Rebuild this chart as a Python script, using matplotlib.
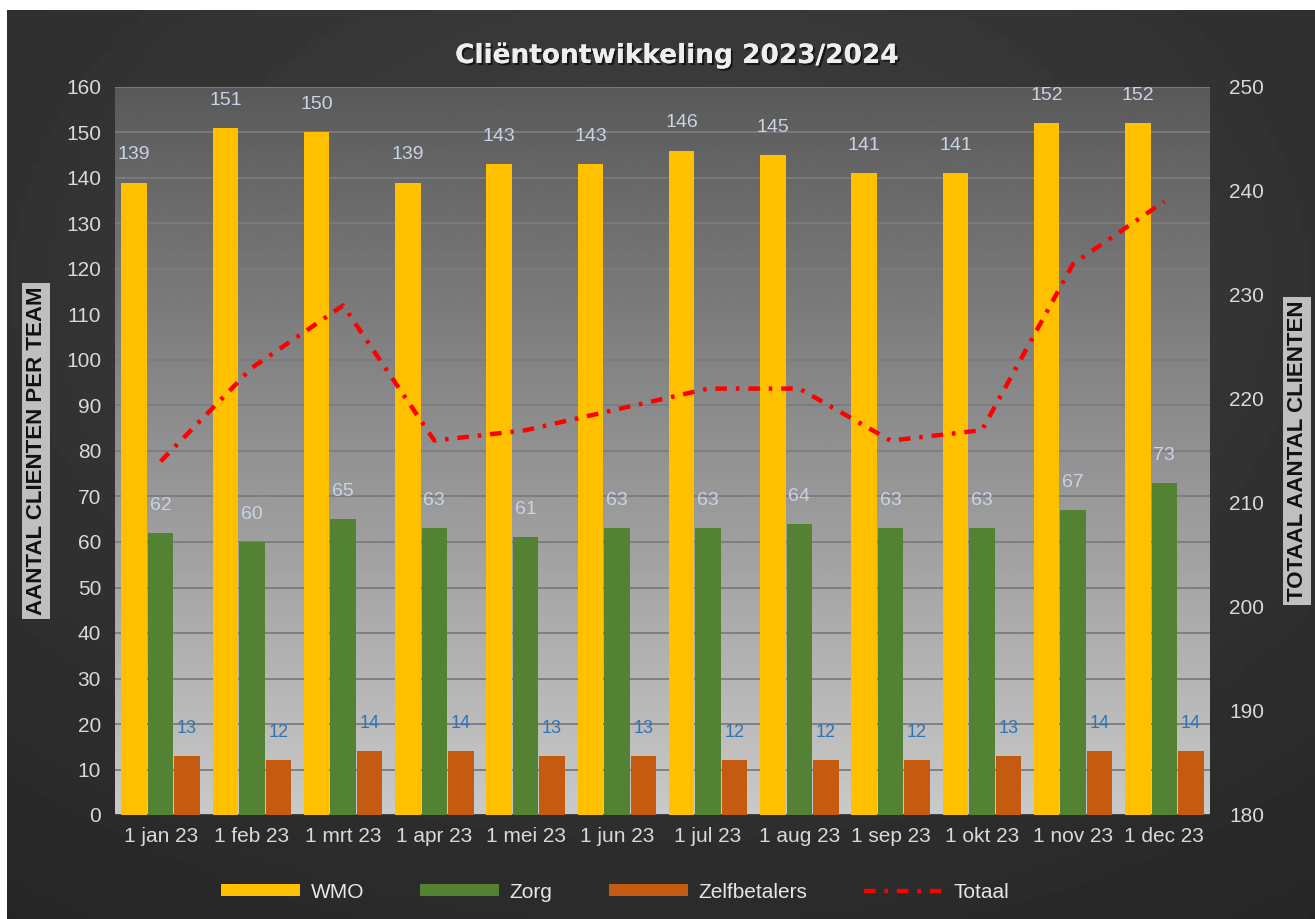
import numpy as np
import matplotlib as mpl
mpl.use('Agg')
import matplotlib.pyplot as plt
import matplotlib.patheffects as pe

months = ["1 jan 23", "1 feb 23", "1 mrt 23", "1 apr 23", "1 mei 23", "1 jun 23",
          "1 jul 23", "1 aug 23", "1 sep 23", "1 okt 23", "1 nov 23", "1 dec 23"]
wmo = [139, 151, 150, 139, 143, 143, 146, 145, 141, 141, 152, 152]
zorg = [62, 60, 65, 63, 61, 63, 63, 64, 63, 63, 67, 73]
zelf = [13, 12, 14, 14, 13, 13, 12, 12, 12, 13, 14, 14]
totaal = [214, 223, 229, 216, 217, 219, 221, 221, 216, 217, 233, 239]

plt.rcParams['font.family'] = ['Liberation Sans', 'DejaVu Sans']

W, H = 1315, 919
fig = plt.figure(figsize=(W / 100, H / 100), dpi=100)
fig.patch.set_facecolor('white')

# dark chart background with soft gradient
bg = fig.add_axes([7 / W, 0, 1 - 7 / W, 1 - 10 / H], zorder=-5)
yy, xx = np.mgrid[0:1:200j, 0:1:200j]
r = np.sqrt((xx - 0.5) ** 2 + (yy - 0.3) ** 2)
bg.imshow(0.26 - 0.13 * r, cmap='gray', vmin=0, vmax=1, aspect='auto', extent=[0, 1, 0, 1])
bg.axis('off')

ax = fig.add_axes([115 / W, 1 - 815 / H, (1210 - 115) / W, (815 - 87) / H])
ax.set_facecolor('none')
grad = np.linspace(0.35, 0.79, 256).reshape(-1, 1)
ax.imshow(grad, cmap='gray', vmin=0, vmax=1, aspect='auto', extent=[0, 1, 0, 1],
          transform=ax.transAxes, zorder=0)

x = np.arange(len(months))
w = 0.28
off = 0.29
ax.bar(x - off, wmo, w, color='#FFC000', label='WMO', zorder=3)
ax.bar(x, zorg, w, color='#548235', label='Zorg', zorder=3)
ax.bar(x + off, zelf, w, color='#C55A11', label='Zelfbetalers', zorder=3)

for xs, vals, col, fs in [(x - off, wmo, '#c9d3e6', 14), (x, zorg, '#c9d3e6', 14),
                          (x + off, zelf, '#2E75B6', 13)]:
    for xi, v in zip(xs, vals):
        ax.annotate(str(v), (xi, v), xytext=(0, 20), textcoords='offset points',
                    ha='center', va='center', fontsize=fs, color=col, zorder=5)

ax.set_xlim(-0.5, len(months) - 0.5)
ax.set_ylim(0, 160)
ax.set_yticks(range(0, 161, 10))
ax.yaxis.grid(True, color='#7c7c7c', linewidth=1.3, zorder=1)
ax.set_axisbelow(True)
ax.axhline(0, color='#34404c', linewidth=2, zorder=2)
ax.set_xticks(x)
ax.set_xticklabels(months)
ax.tick_params(axis='both', colors='#d9d9d9', labelsize=15, length=0)
ax.tick_params(axis='x', pad=9)
ax.tick_params(axis='y', pad=10)
for s in ax.spines.values():
    s.set_visible(False)
ax.set_ylabel('AANTAL CLIENTEN PER TEAM', fontsize=16, fontweight='bold', color='#111111',
              bbox=dict(facecolor='#bfbfbf', edgecolor='none', pad=2.5), labelpad=14)

ax2 = ax.twinx()
ax2.plot(x, totaal, color='#FF0000', linestyle=(0, (2.6, 2, 0.8, 2)), linewidth=3.2,
         label='Totaal', zorder=4)
ax2.set_ylim(180, 250)
ax2.set_yticks(range(180, 251, 10))
ax2.tick_params(axis='y', colors='#d9d9d9', labelsize=15, length=0, pad=14)
for s in ax2.spines.values():
    s.set_visible(False)
ax2.set_ylabel('TOTAAL AANTAL CLIENTEN', fontsize=16, fontweight='bold', color='#111111',
               bbox=dict(facecolor='#bfbfbf', edgecolor='none', pad=2.5), labelpad=16)

fig.text(677 / W, 1 - 56 / H, 'Cliëntontwikkeling 2023/2024', ha='center', va='center',
         fontsize=19, fontweight='bold', color='#eeeeee', family=['DejaVu Sans'],
         path_effects=[pe.withSimplePatchShadow(offset=(1.5, -1.5), shadow_rgbFace='black', alpha=0.6), pe.Normal()])

h1, l1 = ax.get_legend_handles_labels()
h2, l2 = ax2.get_legend_handles_labels()
leg = fig.legend(h1 + h2, l1 + l2, loc='center', bbox_to_anchor=(615 / W, 1 - 892 / H), ncol=4,
                 frameon=False, fontsize=15, handlelength=3.8, handleheight=0.55, handletextpad=0.5,
                 columnspacing=2.7, labelcolor='#e6e6e6')

fig.savefig('out.png', dpi=100)
